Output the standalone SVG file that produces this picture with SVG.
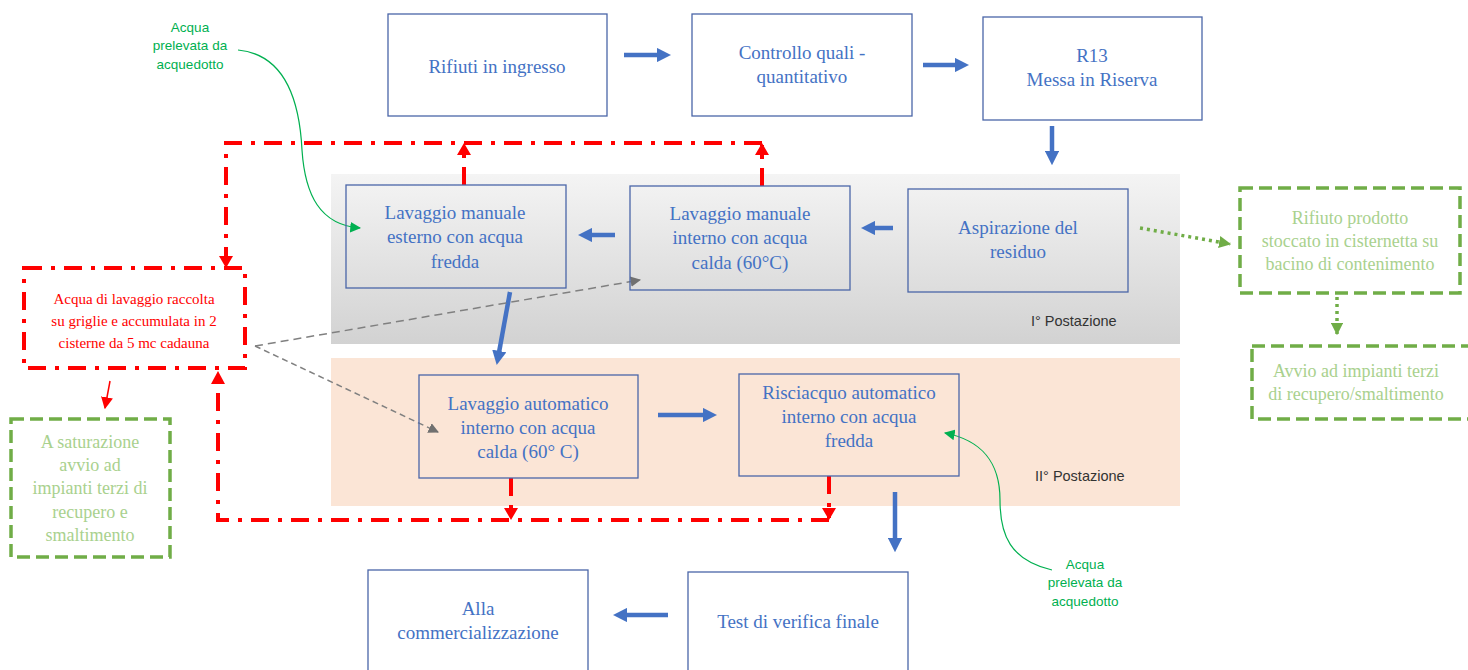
<svg xmlns="http://www.w3.org/2000/svg" width="1468" height="670" viewBox="0 0 1468 670">
<defs>
<linearGradient id="gray" x1="0" y1="0" x2="0" y2="1">
<stop offset="0" stop-color="#f4f4f4"/>
<stop offset="1" stop-color="#d2d2d2"/>
</linearGradient>
<marker id="blueHead" viewBox="0 0 10 10" refX="5" refY="5" markerWidth="3.2" markerHeight="3.2" orient="auto" markerUnits="strokeWidth">
<path d="M0,0 L10,5 L0,10 z" fill="#4472c4"/>
</marker>
<marker id="redThin" viewBox="0 0 10 10" refX="9" refY="5" markerWidth="8" markerHeight="8" orient="auto" markerUnits="strokeWidth">
<path d="M0,0 L10,5 L0,10 z" fill="#ff0000"/>
</marker>
<marker id="grayHead" viewBox="0 0 10 10" refX="9" refY="5" markerWidth="7" markerHeight="7" orient="auto" markerUnits="strokeWidth">
<path d="M0,0 L10,5 L0,10 z" fill="#707070"/>
</marker>
<marker id="greenHead" viewBox="0 0 10 10" refX="9" refY="5" markerWidth="9" markerHeight="9" orient="auto" markerUnits="strokeWidth">
<path d="M0,0 L10,5 L0,10 z" fill="#00b050"/>
</marker>
<marker id="lgHead" viewBox="0 0 10 10" refX="9" refY="5" markerWidth="3.5" markerHeight="3.5" orient="auto" markerUnits="strokeWidth">
<path d="M0,0 L10,5 L0,10 z" fill="#70ad47"/>
</marker>
</defs>
<style>
.box{fill:none;stroke:#4a66a8;stroke-width:1.3}
.bt{font-family:"Liberation Serif",serif;font-size:19px;fill:#4472c4;text-anchor:middle}
.blue{stroke:#4472c4;stroke-width:4.5;fill:none;marker-end:url(#blueHead)}
.red{stroke:#ff0000;stroke-width:4;fill:none;stroke-dasharray:18 9 4 9}
.gbox{fill:none;stroke:#70ad47;stroke-width:3.5;stroke-dasharray:13 6}
.gt{font-family:"Liberation Serif",serif;font-size:18px;fill:#a9d18e;text-anchor:middle}
.rt{font-family:"Liberation Serif",serif;font-size:15px;fill:#ff0000;text-anchor:middle}
.lbl{font-family:"Liberation Sans",sans-serif;font-size:14.5px;fill:#333333}
.aq{font-family:"Liberation Sans",sans-serif;font-size:13.5px;fill:#00b050;text-anchor:middle}
</style>

<g id="bands">
<rect x="331" y="174" width="849" height="170" fill="url(#gray)"/>
<rect x="331" y="358" width="849" height="148" fill="#fbe5d6"/>
<text class="lbl" x="1031" y="326">I° Postazione</text>
<text class="lbl" x="1035" y="481">II° Postazione</text>
</g>

<g id="connectors">
<line class="blue" x1="624" y1="55" x2="664" y2="55"/>
<line class="blue" x1="923" y1="65" x2="962" y2="65"/>
<line class="blue" x1="1052" y1="126" x2="1052" y2="158"/>
<line class="blue" x1="893" y1="228" x2="868" y2="228"/>
<line class="blue" x1="615" y1="235" x2="585" y2="235"/>
<line class="blue" x1="510" y1="292" x2="498" y2="358"/>
<line class="blue" x1="658" y1="415" x2="710" y2="415"/>
<line class="blue" x1="895" y1="492" x2="895" y2="545"/>
<line class="blue" x1="668" y1="615" x2="620" y2="615"/>

<path class="red" d="M464,185 V145"/>
<path class="red" d="M762,186 V145"/>
<path d="M457,155 L464,143 L471,155 z M755,155 L762,143 L769,155 z" fill="#ff0000"/>
<path class="red" d="M762,143 H226 V258"/>
<path d="M219,256 L226,268 L233,256 z" fill="#ff0000"/>
<path class="red" d="M511,478 V518"/>
<path class="red" d="M829,476 V518"/>
<path d="M504,508 L511,520 L518,508 z M822,508 L829,520 L836,508 z" fill="#ff0000"/>
<path class="red" d="M829,520 H218 V382"/>
<path d="M211,384 L218,371 L225,384 z" fill="#ff0000"/>
<line x1="110" y1="381" x2="105" y2="408" stroke="#ff0000" stroke-width="1.5" marker-end="url(#redThin)"/>

<line x1="255" y1="346" x2="640" y2="280" stroke="#808080" stroke-width="1.5" stroke-dasharray="8 5" marker-end="url(#grayHead)"/>
<line x1="255" y1="346" x2="438" y2="432" stroke="#808080" stroke-width="1.5" stroke-dasharray="6 4" marker-end="url(#grayHead)"/>

<line x1="1140" y1="228" x2="1230" y2="244" stroke="#70ad47" stroke-width="3.5" stroke-dasharray="3 4" marker-end="url(#lgHead)"/>
<line x1="1337" y1="297" x2="1337" y2="334" stroke="#70ad47" stroke-width="3.5" stroke-dasharray="3 4" marker-end="url(#lgHead)"/>

<path d="M238,50 C290,55 300,110 302,150 C305,195 320,225 360,228" fill="none" stroke="#00b050" stroke-width="1.2" marker-end="url(#greenHead)"/>
<path d="M1052,570 C1010,560 1000,535 1000,500 C1000,460 980,440 945,433" fill="none" stroke="#00b050" stroke-width="1.2" marker-end="url(#greenHead)"/>
</g>

<g id="n-rifiuti">
<rect class="box" x="388" y="14" width="219" height="102"/>
<text class="bt" x="497" y="73">Rifiuti in ingresso</text>
</g>
<g id="n-controllo">
<rect class="box" x="692" y="14" width="220" height="102"/>
<text class="bt" x="802" y="59">Controllo quali -</text>
<text class="bt" x="802" y="83">quantitativo</text>
</g>
<g id="n-r13">
<rect class="box" x="983" y="17" width="219" height="103"/>
<text class="bt" x="1092" y="62">R13</text>
<text class="bt" x="1092" y="86">Messa in Riserva</text>
</g>
<g id="n-lav-est">
<rect class="box" x="346" y="185" width="220" height="103"/>
<text class="bt" x="455" y="219">Lavaggio manuale</text>
<text class="bt" x="455" y="243">esterno con acqua</text>
<text class="bt" x="455" y="268">fredda</text>
</g>
<g id="n-lav-int">
<rect class="box" x="630" y="186" width="220" height="104"/>
<text class="bt" x="740" y="220">Lavaggio manuale</text>
<text class="bt" x="740" y="244">interno con acqua</text>
<text class="bt" x="740" y="269">calda (60°C)</text>
</g>
<g id="n-aspirazione">
<rect class="box" x="908" y="189" width="220" height="103"/>
<text class="bt" x="1018" y="234">Aspirazione del</text>
<text class="bt" x="1018" y="258">residuo</text>
</g>
<g id="n-lav-auto">
<rect class="box" x="419" y="375" width="219" height="103"/>
<text class="bt" x="528" y="410">Lavaggio automatico</text>
<text class="bt" x="528" y="434">interno con acqua</text>
<text class="bt" x="528" y="458">calda (60° C)</text>
</g>
<g id="n-risciacquo">
<rect class="box" x="739" y="374" width="220" height="102"/>
<text class="bt" x="849" y="399">Risciacquo automatico</text>
<text class="bt" x="849" y="423">interno con acqua</text>
<text class="bt" x="849" y="447">fredda</text>
</g>
<g id="n-comm">
<rect class="box" x="368" y="570" width="220" height="110"/>
<text class="bt" x="478" y="615">Alla</text>
<text class="bt" x="478" y="639">commercializzazione</text>
</g>
<g id="n-test">
<rect class="box" x="688" y="572" width="220" height="110"/>
<text class="bt" x="798" y="628">Test di verifica finale</text>
</g>

<g id="n-acqua-lav">
<rect x="24" y="268" width="221" height="100" fill="none" stroke="#ff0000" stroke-width="4" stroke-dasharray="18 9 4 9"/>
<text class="rt" x="134" y="304">Acqua di lavaggio raccolta</text>
<text class="rt" x="134" y="326">su griglie e accumulata in 2</text>
<text class="rt" x="134" y="348">cisterne da 5 mc cadauna</text>
</g>
<g id="n-saturazione">
<rect class="gbox" x="11" y="419" width="159" height="138"/>
<text class="gt" x="90" y="448">A saturazione</text>
<text class="gt" x="90" y="471">avvio ad</text>
<text class="gt" x="90" y="494">impianti terzi di</text>
<text class="gt" x="90" y="518">recupero e</text>
<text class="gt" x="90" y="541">smaltimento</text>
</g>
<g id="n-rifiuto-prodotto">
<rect class="gbox" x="1240" y="188" width="220" height="105"/>
<text class="gt" x="1350" y="224">Rifiuto prodotto</text>
<text class="gt" x="1350" y="247">stoccato in cisternetta su</text>
<text class="gt" x="1350" y="270">bacino di contenimento</text>
</g>
<g id="n-avvio">
<rect class="gbox" x="1252" y="346" width="220" height="73"/>
<text class="gt" x="1356" y="377">Avvio ad impianti terzi</text>
<text class="gt" x="1356" y="400">di recupero/smaltimento</text>
</g>
<g id="n-aq1">
<text class="aq" x="190" y="32">Acqua</text>
<text class="aq" x="190" y="50">prelevata da</text>
<text class="aq" x="190" y="69">acquedotto</text>
</g>
<g id="n-aq2">
<text class="aq" x="1085" y="569">Acqua</text>
<text class="aq" x="1085" y="587">prelevata da</text>
<text class="aq" x="1085" y="606">acquedotto</text>
</g>
</svg>
